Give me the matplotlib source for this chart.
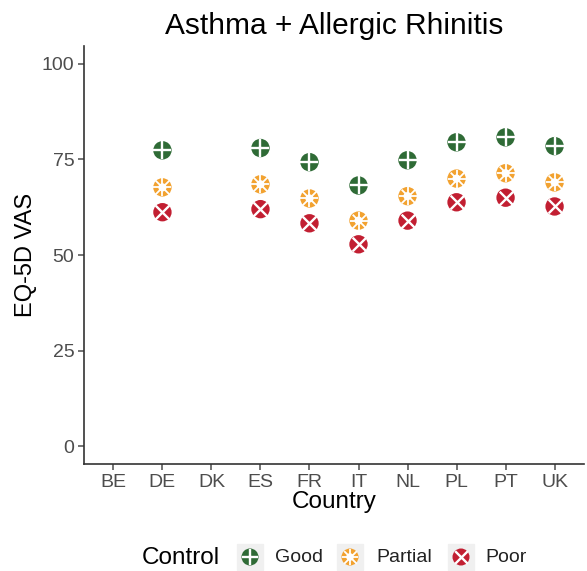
import matplotlib
matplotlib.use("Agg")
import matplotlib.pyplot as plt
import numpy as np

plt.rcParams['font.family'] = ['Liberation Sans', 'DejaVu Sans']

countries = ["BE", "DE", "DK", "ES", "FR", "IT", "NL", "PL", "PT", "UK"]
good =    [np.nan, 77.4, np.nan, 78.0, 74.3, 68.2, 74.8, 79.5, 80.8, 78.5]
partial = [np.nan, 67.7, np.nan, 68.5, 64.8, 59.0, 65.4, 70.0, 71.4, 69.0]
poor =    [np.nan, 61.2, np.nan, 62.0, 58.3, 52.8, 59.0, 63.8, 65.0, 62.7]
levels = ["Good", "Partial", "Poor"]
colors = {"Good": "#2f6b36", "Partial": "#f2a230", "Poor": "#c21f32"}

fig = plt.figure(figsize=(5.87, 5.71), dpi=100)
ax = fig.add_axes([84/587, (571-464)/571, 500/587, (464-46)/571])

x = np.arange(len(countries))
S = 175

def draw(ax, xs, ys, lev, s=S, z=3):
    c = colors[lev]
    ax.scatter(xs, ys, s=s, color=c, edgecolors='none', zorder=z, clip_on=False)
    if lev == "Good":
        ax.scatter(xs, ys, s=s*0.95, marker='+', color='white', linewidths=1.7, zorder=z+1, clip_on=False)
    elif lev == "Poor":
        ax.scatter(xs, ys, s=s*0.55, marker='x', color='white', linewidths=1.7, zorder=z+1, clip_on=False)
    else:
        ax.scatter(xs, ys, s=s*0.95, marker='+', color='white', linewidths=1.3, zorder=z+1, clip_on=False)
        ax.scatter(xs, ys, s=s*0.55, marker='x', color='white', linewidths=1.3, zorder=z+1, clip_on=False)
        ax.scatter(xs, ys, s=s*0.2, marker='o', color='white', edgecolors='none', zorder=z+2, clip_on=False)

for lev, vals in zip(levels, [good, partial, poor]):
    draw(ax, x, vals, lev)

ax.set_xlim(-0.6, len(countries) - 1 + 0.6)
ax.set_ylim(-4.7, 104.7)
ax.set_xticks(x)
ax.set_xticklabels(countries)
ax.set_yticks([0, 25, 50, 75, 100])
ax.tick_params(axis='both', colors='#4d4d4d', labelsize=14, length=4, width=1.1, labelcolor='#4d4d4d', pad=3)
for sp in ['top', 'right']:
    ax.spines[sp].set_visible(False)
for sp in ['left', 'bottom']:
    ax.spines[sp].set_color('#333333')
    ax.spines[sp].set_linewidth(1.2)
ax.set_xlabel("Country", fontsize=17.5, color='black', labelpad=0)
ax.set_ylabel("EQ-5D VAS", fontsize=17, color='black', labelpad=3)
ax.set_title("Asthma + Allergic Rhinitis", fontsize=21.5, color='black', pad=9)

# legend
fig.text(142/587, 1 - 558/571, "Control", fontsize=17.5, va='center', ha='left')
lax = fig.add_axes([0, 0, 1, 1], facecolor='none')
lax.set_xlim(0, 587)
lax.set_ylim(571, 0)
lax.axis('off')
for lev, kx, tx in zip(levels, [250, 350, 461], [275, 376, 485]):
    lax.add_patch(plt.Rectangle((kx - 13, 557 - 13), 26, 26, color='#f0f0f0', zorder=1))
    draw(lax, [kx], [557], lev, s=150, z=3)
    lax.text(tx, 558, lev, fontsize=14, va='center', ha='left', color='#222222')

fig.savefig("out.png", dpi=100)
